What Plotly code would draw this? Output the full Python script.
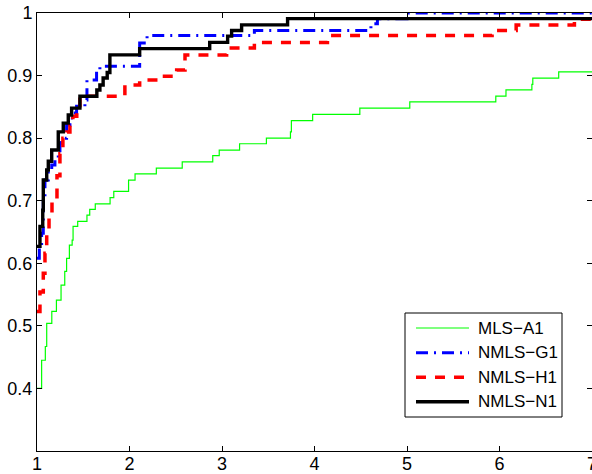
import plotly.graph_objects as go

# ---- data ----
names = ["MLS\u2212A1", "NMLS\u2212G1", "NMLS\u2212H1", "NMLS\u2212N1"]

a1_x = [1.0, 1.05, 1.09, 1.105, 1.16, 1.21, 1.26, 1.30, 1.32, 1.35, 1.38, 1.39, 1.44, 1.54, 1.57,
        1.63, 1.79, 1.83, 1.99, 2.06, 2.29, 2.57, 2.90, 2.97, 3.19, 3.48, 3.74, 3.75, 3.98, 4.49,
        5.03, 5.96, 6.07, 6.35, 6.36, 6.64, 7.0]
a1_y = [0.40, 0.445, 0.467, 0.504, 0.523, 0.541, 0.565, 0.587, 0.608, 0.629, 0.637, 0.659, 0.667,
        0.677, 0.686, 0.695, 0.705, 0.715, 0.733, 0.743, 0.752, 0.762, 0.772, 0.781, 0.791, 0.800,
        0.810, 0.828, 0.838, 0.848, 0.858, 0.867, 0.877, 0.886, 0.896, 0.906, 0.906]

g1_x = [1.0, 1.025, 1.05, 1.068, 1.086, 1.122, 1.159, 1.194, 1.23, 1.248, 1.266, 1.32, 1.356,
        1.392, 1.428, 1.518, 1.54, 1.644, 1.68, 2.11, 2.19, 3.35, 4.61, 4.68, 5.0, 7.0]
g1_y = [0.608, 0.627, 0.648, 0.700, 0.733, 0.749, 0.757, 0.768, 0.780, 0.792, 0.800, 0.821, 0.832,
        0.840, 0.851, 0.861, 0.893, 0.907, 0.915, 0.952, 0.964, 0.972, 0.983, 0.991, 1.0, 1.0]

h1_x = [1.0, 1.032, 1.068, 1.086, 1.105, 1.13, 1.162, 1.216, 1.248, 1.28, 1.324, 1.356, 1.388,
        1.43, 1.464, 1.95, 2.11, 2.33, 2.51, 2.60, 3.05, 3.35, 4.14, 5.92, 6.18, 6.81, 7.0]
h1_y = [0.523, 0.554, 0.584, 0.616, 0.653, 0.680, 0.700, 0.740, 0.775, 0.800, 0.810, 0.820, 0.835,
        0.845, 0.867, 0.885, 0.893, 0.899, 0.909, 0.933, 0.944, 0.953, 0.964, 0.972, 0.981, 0.990,
        0.990]

n1_x = [1.0, 1.032, 1.062, 1.068, 1.105, 1.122, 1.159, 1.23, 1.284, 1.338, 1.374, 1.464, 1.647,
        1.68, 1.715, 1.759, 1.788, 2.11, 2.867, 3.061, 3.104, 3.212, 3.709, 7.0]
n1_y = [0.627, 0.659, 0.685, 0.733, 0.749, 0.763, 0.781, 0.810, 0.824, 0.837, 0.848, 0.867, 0.877,
        0.885, 0.896, 0.905, 0.933, 0.943, 0.953, 0.963, 0.972, 0.981, 0.991, 0.991]

x_ticks = [1, 2, 3, 4, 5, 6, 7]
y_ticks = [0.4, 0.5, 0.6, 0.7, 0.8, 0.9, 1.0]
y_tick_text = ["0.4", "0.5", "0.6", "0.7", "0.8", "0.9", "1"]

# ---- styles ----
styles = [
    dict(color="#00ff00", width=1.2, dash="solid"),
    dict(color="#0000ff", width=3, dash="12px,6px,2px,6px"),
    dict(color="#ff0000", width=3.5, dash="10px,9px"),
    dict(color="#000000", width=3.4, dash="solid"),
]
series = [(a1_x, a1_y), (g1_x, g1_y), (h1_x, h1_y), (n1_x, n1_y)]

W, H = 592, 474
ML, MR, MT, MB = 37, 0, 13, 23

fig = go.Figure()
for (xs, ys), nm, st in zip(series, names, styles):
    fig.add_trace(go.Scatter(x=xs, y=ys, mode="lines", name=nm, line_shape="hv",
                             line=st, showlegend=False))

font = dict(family="Liberation Sans, Arial, Helvetica, sans-serif", size=18, color="black")

fig.update_layout(
    width=W, height=H,
    margin=dict(l=ML, r=MR, t=MT, b=MB, pad=0, autoexpand=False),
    paper_bgcolor="white", plot_bgcolor="white",
    font=font,
    xaxis=dict(range=[1, 7], tickvals=x_ticks, ticktext=[str(v) for v in x_ticks],
               showgrid=False, zeroline=False, showline=True, linecolor="black", linewidth=1,
               mirror="ticks", ticks="inside", ticklen=5, tickcolor="black", tickfont=font,
               ticklabeloverflow="allow", ticklabelstandoff=-4, automargin=False),
    yaxis=dict(range=[0.3, 1.0], tickvals=y_ticks, ticktext=y_tick_text,
               showgrid=False, zeroline=False, showline=True, linecolor="black", linewidth=1,
               mirror="ticks", ticks="inside", ticklen=5, tickcolor="black", tickfont=font,
               ticklabeloverflow="allow", automargin=False),
)

# ---- manual legend (pixel layout converted to paper coords) ----
pw = W - ML - MR
ph = H - MT - MB
def px(xp):
    return (xp - ML) / pw
def py(yp):
    return (H - MB - yp) / ph

fig.add_shape(type="rect", xref="paper", yref="paper",
              x0=px(405), x1=px(562), y0=py(417), y1=py(313),
              line=dict(color="black", width=1), fillcolor="white", layer="above")
rows = [328, 352.7, 377.3, 401.7]
for nm, st, r in zip(names, styles, rows):
    fig.add_shape(type="line", xref="paper", yref="paper",
                  x0=px(416), x1=px(469), y0=py(r), y1=py(r),
                  line=st, layer="above")
    fig.add_annotation(xref="paper", yref="paper", x=px(476), y=py(r), text=nm,
                       showarrow=False, xanchor="left", yanchor="middle",
                       font=dict(family=font["family"], size=17, color="black"))

fig.write_html("out.html")
